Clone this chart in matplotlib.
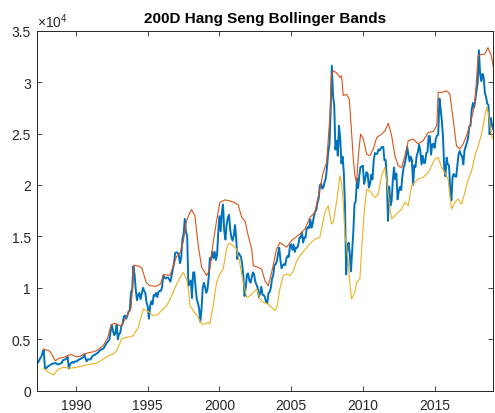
import numpy as np
import matplotlib.pyplot as plt
from matplotlib.ticker import FuncFormatter

plt.rcParams['font.family'] = ['Liberation Sans', 'DejaVu Sans']
plt.rcParams['mathtext.default'] = 'regular'

# Hang Seng, un valor por mes (ene 1987 ... ene 2019)
cierres = [
    2600, 2750, 2800, 2700, 2900, 3150, 3300, 3700, 3950, 2250, 2150, 2300,            # 1987
    2400, 2450, 2550, 2600, 2650, 2650, 2700, 2600, 2550, 2600, 2650, 2690,            # 1988
    2950, 3000, 3050, 3100, 3300, 2150, 2550, 2700, 2800, 2700, 2850, 2840,            # 1989
    2870, 3000, 3050, 3100, 3200, 3250, 3550, 3100, 2850, 3050, 3050, 3025,            # 1990
    3200, 3400, 3450, 3500, 3600, 3650, 3800, 3900, 4000, 4050, 4100, 4300,            # 1991
    4500, 4700, 4800, 5000, 5800, 6400, 5800, 5400, 5600, 6400, 5000, 5510,            # 1992
    5600, 6300, 6500, 7200, 7300, 7000, 7300, 7700, 7800, 9600, 9800, 12100,           # 1993
    11300, 9800, 8800, 9300, 9500, 8900, 9400, 10000, 9700, 9500, 8600, 8190,          # 1994
    7000, 8200, 8700, 8400, 9300, 9200, 9500, 9100, 9600, 9700, 9700, 10070,           # 1995
    11200, 11000, 10900, 11000, 11000, 10800, 10600, 11200, 11800, 12400, 13400, 13450,  # 1996
    13400, 13200, 12400, 12900, 14700, 15200, 16700, 15400, 15050, 10200, 10500, 10720,  # 1997
    9000, 11500, 11500, 10100, 8900, 8500, 8000, 6700, 7900, 10000, 10500, 10050,      # 1998
    9500, 9900, 11000, 12900, 12700, 13500, 12900, 13500, 12700, 13200, 15400, 16960,  # 1999
    15500, 17300, 18100, 15500, 14700, 16100, 16800, 17100, 15650, 14900, 14600, 15100,  # 2000
    16100, 14800, 12800, 13400, 13200, 13000, 12300, 11100, 9200, 10000, 11300, 11400,  # 2001
    10700, 10500, 11000, 11500, 11300, 10600, 10300, 10000, 9100, 9500, 10100, 9320,   # 2002
    9300, 9100, 8600, 8500, 9500, 9600, 10000, 10900, 11200, 12200, 12300, 12580,      # 2003
    13300, 13900, 12700, 11900, 12200, 12300, 12200, 12850, 13100, 13000, 14100, 14230,  # 2004
    13700, 14200, 13500, 13900, 13900, 14200, 14900, 14900, 15400, 14400, 14900, 14880,  # 2005
    15750, 15900, 15800, 16650, 15850, 16250, 16950, 17400, 17550, 18300, 18700, 19960,  # 2006
    20100, 19650, 19800, 20300, 20650, 21800, 23200, 23950, 27150, 31600, 28650, 27810,  # 2007
    23450, 24300, 22850, 25750, 24550, 22100, 22750, 21250, 18000, 11300, 13900, 14390,  # 2008
    13300, 11600, 13600, 15500, 18200, 18400, 20600, 19700, 20950, 21750, 21800, 21870,  # 2009
    20100, 20600, 21250, 21100, 19750, 20100, 21000, 20550, 22350, 23100, 23000, 23035,  # 2010
    23450, 23350, 23550, 23700, 23700, 22400, 22450, 20550, 16500, 19850, 17990, 18430,  # 2011
    20400, 21700, 20550, 21100, 18600, 19400, 19800, 19500, 20850, 21650, 22050, 22660,  # 2012
    23700, 23000, 22300, 22750, 22400, 20000, 21900, 21750, 22850, 23200, 23900, 23310,  # 2013
    22000, 22850, 22150, 22150, 23100, 23200, 24750, 24750, 22950, 23950, 23990, 23600,  # 2014
    24500, 24800, 24900, 28400, 27400, 26250, 24650, 21650, 20850, 22650, 21990, 21910,  # 2015
    19700, 18500, 20780, 21070, 20820, 20800, 21890, 23000, 23300, 22930, 22790, 22000,  # 2016
    23360, 23740, 24110, 24620, 25660, 25760, 27320, 27970, 27550, 28250, 29180, 29920,  # 2017
    33100, 30840, 30090, 30810, 30470, 28960, 28580, 27890, 27790, 24980, 26510, 25850,  # 2018
    25400,                                                                               # 2019
]
meses = 1987 + (np.arange(len(cierres)) + 1) / 12.0

# banda superior (media 200D + 2 sigma)
sup_t = [1987.70, 1988.10, 1988.25, 1988.55, 1988.80, 1989.20, 1989.45, 1989.70, 1990.00,
         1990.30, 1990.55, 1990.90, 1991.30, 1991.60, 1991.90, 1992.20, 1992.44, 1992.68,
         1993.03, 1993.15, 1993.50, 1993.83, 1993.95, 1994.05, 1994.40, 1994.60, 1994.90,
         1995.15, 1995.60, 1995.90, 1996.10, 1996.55, 1997.00, 1997.25, 1997.48, 1997.70,
         1997.95, 1998.06, 1998.29, 1998.52, 1998.76, 1999.10, 1999.33, 1999.56, 1999.80,
         2000.03, 2000.38, 2000.73, 2001.03, 2001.31, 2001.55, 2001.78, 2002.01, 2002.25,
         2002.36, 2002.70, 2002.94, 2003.17, 2003.40, 2003.64, 2003.98, 2004.21, 2004.68,
         2005.03, 2005.61, 2005.96, 2006.31, 2006.66, 2007.00, 2007.23, 2007.47, 2007.70,
         2007.81, 2007.93, 2008.16, 2008.40, 2008.51, 2008.63, 2008.86, 2009.05, 2009.21,
         2009.33, 2009.44, 2009.56, 2009.68, 2009.84, 2010.03, 2010.26, 2010.49, 2010.72,
         2010.96, 2011.30, 2011.53, 2011.77, 2012.00, 2012.23, 2012.46, 2012.70, 2012.93,
         2013.16, 2013.50, 2013.85, 2014.20, 2014.55, 2014.90, 2015.15, 2015.25, 2015.48,
         2015.83, 2016.06, 2016.29, 2016.52, 2016.76, 2016.99, 2017.22, 2017.45, 2017.80,
         2018.03, 2018.26, 2018.49, 2018.72, 2018.95, 2019.09]
sup = [4050, 3900, 3700, 2900, 3150, 3250, 3450, 3500, 3300,
       3350, 3550, 3700, 3800, 4050, 4400, 5100, 6400, 6550,
       6350, 6300, 7150, 8000, 10000, 12200, 12100, 11900, 10500,
       10200, 10150, 10400, 11300, 11200, 13000, 13400, 14500, 16500,
       17350, 17600, 17000, 14100, 12000, 11200, 11800, 14400, 16500,
       18300, 18550, 18450, 18300, 18050, 16850, 16500, 15050, 13750,
       12150, 12000, 11800, 10700, 10200, 11500, 13750, 14400, 13950,
       14600, 15230, 15720, 16850, 17340, 19600, 21200, 22200, 26700,
       30600, 31100, 30900, 30450, 30600, 28700, 28800, 28350, 25100,
       22500, 20900, 20250, 22850, 24950, 24450, 23000, 22850, 23500,
       24600, 24950, 25250, 26000, 24800, 22850, 21850, 21700, 22850,
       24300, 24450, 24000, 24300, 25100, 25200, 25800, 29000, 29000,
       29150, 28850, 26400, 23800, 23500, 24000, 24800, 25750, 27850,
       32550, 32700, 32700, 33350, 32550, 31500]

# banda inferior (media 200D - 2 sigma)
inf_t = [1987.72, 1988.07, 1988.42, 1988.77, 1989.12, 1989.58, 1990.05, 1990.51, 1991.09,
         1991.44, 1991.91, 1992.26, 1992.60, 1992.84, 1993.18, 1993.53, 1993.88, 1993.99,
         1994.34, 1994.69, 1995.04, 1995.39, 1995.74, 1995.97, 1996.32, 1996.67, 1996.90,
         1997.25, 1997.48, 1997.71, 1997.83, 1997.95, 1998.18, 1998.52, 1998.76, 1998.99,
         1999.22, 1999.33, 1999.56, 1999.80, 2000.03, 2000.26, 2000.50, 2000.61, 2000.73,
         2000.96, 2001.20, 2001.43, 2001.66, 2001.90, 2002.13, 2002.36, 2002.60, 2002.83,
         2003.06, 2003.40, 2003.64, 2003.87, 2004.03, 2004.21, 2004.44, 2004.68, 2004.91,
         2005.14, 2005.38, 2005.61, 2005.96, 2006.31, 2006.66, 2007.00, 2007.35, 2007.58,
         2007.81, 2007.93, 2008.16, 2008.40, 2008.51, 2008.63, 2008.75, 2008.86, 2008.98,
         2009.10, 2009.21, 2009.44, 2009.56, 2009.79, 2009.91, 2010.07, 2010.26, 2010.49,
         2010.84, 2011.07, 2011.30, 2011.53, 2011.65, 2011.88, 2012.00, 2012.23, 2012.46,
         2012.70, 2012.93, 2013.16, 2013.39, 2013.62, 2013.85, 2014.20, 2014.55, 2014.79,
         2015.02, 2015.25, 2015.48, 2015.71, 2015.94, 2016.06, 2016.18, 2016.41, 2016.64,
         2016.88, 2017.11, 2017.34, 2017.58, 2017.81, 2018.04, 2018.27, 2018.50, 2018.62,
         2018.73, 2018.97, 2019.09]
inf = [2180, 1790, 1530, 2110, 2270, 2180, 2270, 2430, 2600,
       2660, 3080, 3400, 3570, 3890, 5020, 5190, 5290, 5350,
       6160, 7940, 7700, 7290, 7450, 7800, 8250, 9200, 10000,
       11000, 11500, 10860, 9880, 8260, 7770, 7130, 6480, 6480,
       6650, 6480, 8260, 10530, 11340, 11830, 13770, 14260, 14320,
       14090, 13770, 12310, 10530, 9080, 9230, 9560, 9880, 8910,
       8590, 8430, 8100, 7770, 8260, 9880, 11180, 11340, 11200,
       11600, 12600, 13120, 13700, 14300, 14740, 14910, 17340, 17980,
       16200, 16370, 18310, 20890, 20250, 18310, 15060, 14090, 12480,
       10200, 8910, 9560, 10530, 10860, 13770, 17010, 19600, 19400,
       18790, 19120, 20890, 21710, 20570, 17820, 16690, 17010, 17340,
       17660, 18310, 17980, 19920, 20250, 20570, 20740, 21200, 21870,
       22520, 22680, 21710, 21220, 20570, 18950, 17660, 18310, 18630,
       18140, 19280, 20570, 21380, 22840, 23810, 24950, 26720, 27540,
       27060, 24780, 24460]

anios = [1990, 1995, 2000, 2005, 2010, 2015]
niveles = np.arange(0, 35001, 5000)

gris = '#262626'

fig = plt.figure(figsize=(4.95, 4.14), dpi=100)
ax = fig.add_axes([0.0741, 0.0539, 0.9225, 0.8696])

ax.plot(meses, cierres, color='#0072BD', lw=1.4)
ax.plot(sup_t, sup, color='#D95319', lw=0.8)
ax.plot(inf_t, inf, color='#EDB120', lw=0.8)

ax.set_xlim(1987.26, 2019.09)
ax.set_ylim(0, 35000)
ax.set_xticks(anios)
ax.set_yticks(niveles)
ax.yaxis.set_major_formatter(FuncFormatter(lambda v, p: f'{v / 1e4:g}'))

ax.tick_params(direction='in', length=3.5, width=0.6, colors=gris, labelsize=10,
               top=True, right=True)
ax.tick_params(axis='x', pad=5)
ax.tick_params(axis='y', pad=4)
for s in ax.spines.values():
    s.set_color(gris)
    s.set_linewidth(0.7)

ax.set_title('200D Hang Seng Bollinger Bands', fontsize=11, fontweight='bold', pad=6)
ax.text(0.0, 1.009, r'$\times10^{4}$', transform=ax.transAxes, fontsize=10,
        color=gris, ha='left', va='baseline')

fig.savefig('out.png', dpi=100)
